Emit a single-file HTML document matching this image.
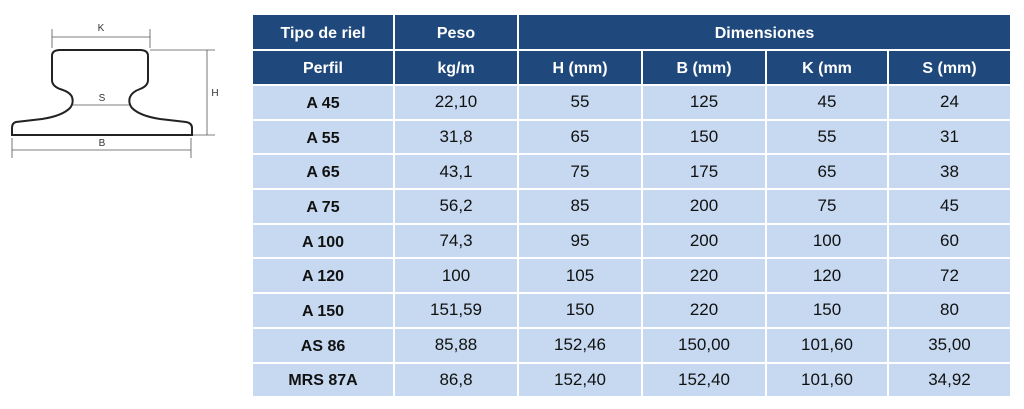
<!DOCTYPE html>
<html><head><meta charset="utf-8"><style>
body{margin:0;width:1024px;height:409px;background:#fff;overflow:hidden;position:relative;font-family:"Liberation Sans",sans-serif}
table{position:absolute;left:251px;top:15px;border-collapse:collapse;table-layout:fixed}
td{border:2px solid #fff;text-align:center;vertical-align:middle;padding:0;font-size:17px;color:#111;background:#c6d9f0;line-height:20px}
tr{height:34.7px}
tr.hr{height:35px}
td.h{background:#1f497d;color:#fff;font-weight:bold;font-size:16px;padding-top:3px}
td.b{font-weight:bold;font-size:16px;padding-top:3px}
tr:first-child td{border-top:none}
</style></head><body>
<svg width="240" height="170" style="position:absolute;left:0;top:0" fill="none" stroke="#222">
<g stroke-width="0.8" stroke="#555">
<line x1="52" y1="29" x2="52" y2="48"/><line x1="150" y1="29" x2="150" y2="48"/>
<line x1="52" y1="37" x2="150" y2="37"/>
<line x1="150" y1="50" x2="215" y2="50"/><line x1="190" y1="135" x2="215" y2="135"/>
<line x1="207" y1="50" x2="207" y2="135"/>
<line x1="73" y1="105" x2="130" y2="105"/>
<line x1="12" y1="138" x2="12" y2="158"/><line x1="191" y1="138" x2="191" y2="158"/>
<line x1="12" y1="150" x2="191" y2="150"/>
</g>
<path stroke-width="2" d="M52,135 L192,135 L192,128 Q192,123 186,122 L160,119 Q140,116 132,108 Q128,103 130,97 Q132,92 140,89 Q148,86 148,80 L148,56 Q148,50 140,50 L60,50 Q52,50 52,56 L52,80 Q52,86 60,89 Q70,92 72,97 Q74,103 70,108 Q62,116 42,119 L16,122 Q12,123 12,128 L12,135 Z"/>
<g fill="#333" stroke="none" font-size="10" text-anchor="middle" font-family="Liberation Sans,sans-serif">
<text x="101" y="31">K</text><text x="215" y="96">H</text><text x="102" y="101">S</text><text x="102" y="146">B</text>
</g></svg>
<table>
<colgroup><col style="width:142px"><col style="width:124px"><col style="width:124px"><col style="width:124px"><col style="width:122px"><col style="width:123px"></colgroup>
<tr class="hr"><td class="h">Tipo de riel</td><td class="h">Peso</td><td class="h" colspan="4">Dimensiones</td></tr>
<tr class="hr"><td class="h">Perfil</td><td class="h">kg/m</td><td class="h">H (mm)</td><td class="h">B (mm)</td><td class="h">K (mm</td><td class="h">S (mm)</td></tr>
<tr><td class="b">A 45</td><td>22,10</td><td>55</td><td>125</td><td>45</td><td>24</td></tr>
<tr><td class="b">A 55</td><td>31,8</td><td>65</td><td>150</td><td>55</td><td>31</td></tr>
<tr><td class="b">A 65</td><td>43,1</td><td>75</td><td>175</td><td>65</td><td>38</td></tr>
<tr><td class="b">A 75</td><td>56,2</td><td>85</td><td>200</td><td>75</td><td>45</td></tr>
<tr><td class="b">A 100</td><td>74,3</td><td>95</td><td>200</td><td>100</td><td>60</td></tr>
<tr><td class="b">A 120</td><td>100</td><td>105</td><td>220</td><td>120</td><td>72</td></tr>
<tr><td class="b">A 150</td><td>151,59</td><td>150</td><td>220</td><td>150</td><td>80</td></tr>
<tr><td class="b">AS 86</td><td>85,88</td><td>152,46</td><td>150,00</td><td>101,60</td><td>35,00</td></tr>
<tr><td class="b">MRS 87A</td><td>86,8</td><td>152,40</td><td>152,40</td><td>101,60</td><td>34,92</td></tr>
</table>
</body></html>
